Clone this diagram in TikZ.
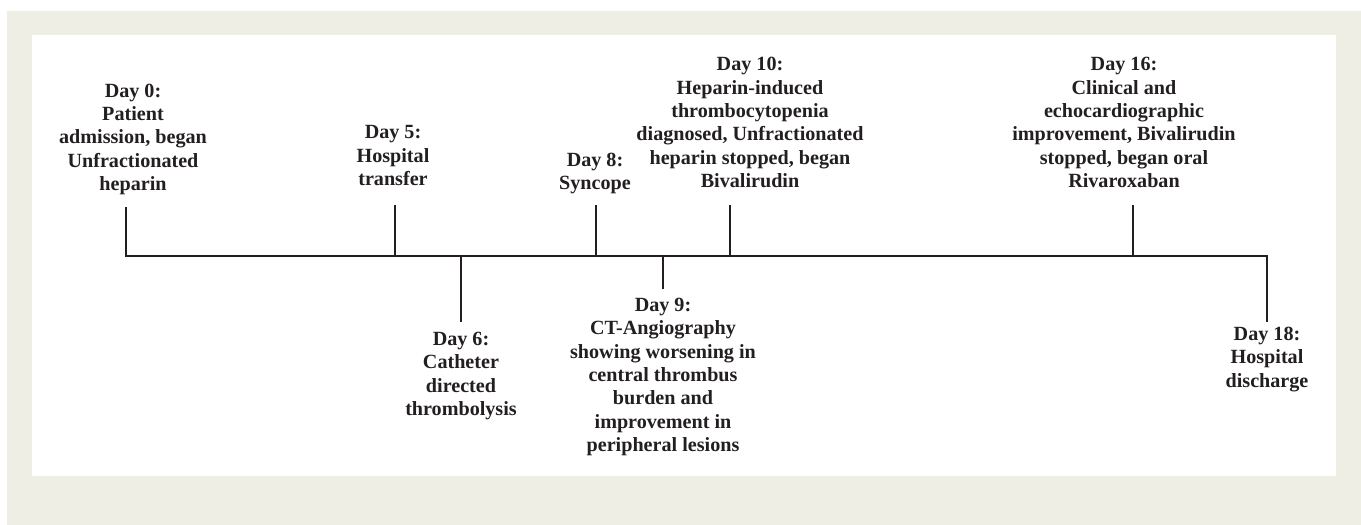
\documentclass[tikz,border=0pt]{standalone}
\usepackage{fontspec}
\setmainfont{Liberation Serif}
\usepackage{tikz}
\usetikzlibrary{calc}
\definecolor{bgbeige}{RGB}{239,238,228}
\definecolor{inkgrey}{RGB}{35,31,32}

\begin{document}
\begin{tikzpicture}[x=0.75pt,y=-0.75pt,
    event/.style={align=center,inner sep=0pt,text=inkgrey,
        font=\bfseries\fontsize{15.1}{17.5}\selectfont},
    daymark/.style={line width=1.5pt,inkgrey}]

    % Latar belakang: bingkai krem dan panel putih
    \useasboundingbox (0,0) rectangle (1361,525);
    \fill[bgbeige] (7,11) rectangle (1361,525);
    \fill[white] (32,35) rectangle (1336,476);

    % Titik-titik pada garis waktu
    \coordinate (a0) at (126,256);
    \coordinate (a5) at (395,256);
    \coordinate (a6) at (461,256);
    \coordinate (a8) at (596,256);
    \coordinate (a9) at (663,256);
    \coordinate (a10) at (730,256);
    \coordinate (a16) at (1133,256);
    \coordinate (a18) at (1267,256);

    % Ujung bebas setiap penanda
    \coordinate (t0) at (126,207);
    \coordinate (t5) at (395,205);
    \coordinate (t6) at (461,322);
    \coordinate (t8) at (596,205);
    \coordinate (t9) at (663,289);
    \coordinate (t10) at (730,205);
    \coordinate (t16) at (1133,205);
    \coordinate (t18) at (1267,322);

    % Garis waktu utama
    \draw[daymark] (t0) -- (a0) -- (a18) -- (t18);
    \draw[daymark] (t5) -- (a5);
    \draw[daymark] (t6) -- (a6);
    \draw[daymark] (t8) -- (a8);
    \draw[daymark] (t9) -- (a9);
    \draw[daymark] (t10) -- (a10);
    \draw[daymark] (t16) -- (a16);

    % Keterangan di atas garis
    \node[event,anchor=south] (d0) at (133,195) {Day 0:\\Patient\\admission, began\\Unfractionated\\heparin};
    \node[event,anchor=south] (d5) at (393,186) {Day 5:\\Hospital\\transfer};
    \node[event,anchor=south] (d8) at (595,194) {Day 8:\\Syncope};
    \node[event,anchor=south] (d10) at (750,188) {Day 10:\\Heparin-induced\\thrombocytopenia\\diagnosed, Unfractionated\\heparin stopped, began\\Bivalirudin};
    \node[event,anchor=south] (d16) at (1124,188) {Day 16:\\Clinical and\\echocardiographic\\improvement, Bivalirudin\\stopped, began oral\\Rivaroxaban};

    % Keterangan di bawah garis
    \node[event,anchor=north] (d6) at (461,332) {Day 6:\\Catheter\\directed\\thrombolysis};
    \node[event,anchor=north] (d9) at (663,298) {Day 9:\\CT-Angiography\\showing worsening in\\central thrombus\\burden and\\improvement in\\peripheral lesions};
    \node[event,anchor=north] (d18) at (1267,327) {Day 18:\\Hospital\\discharge};

\end{tikzpicture}
\end{document}
